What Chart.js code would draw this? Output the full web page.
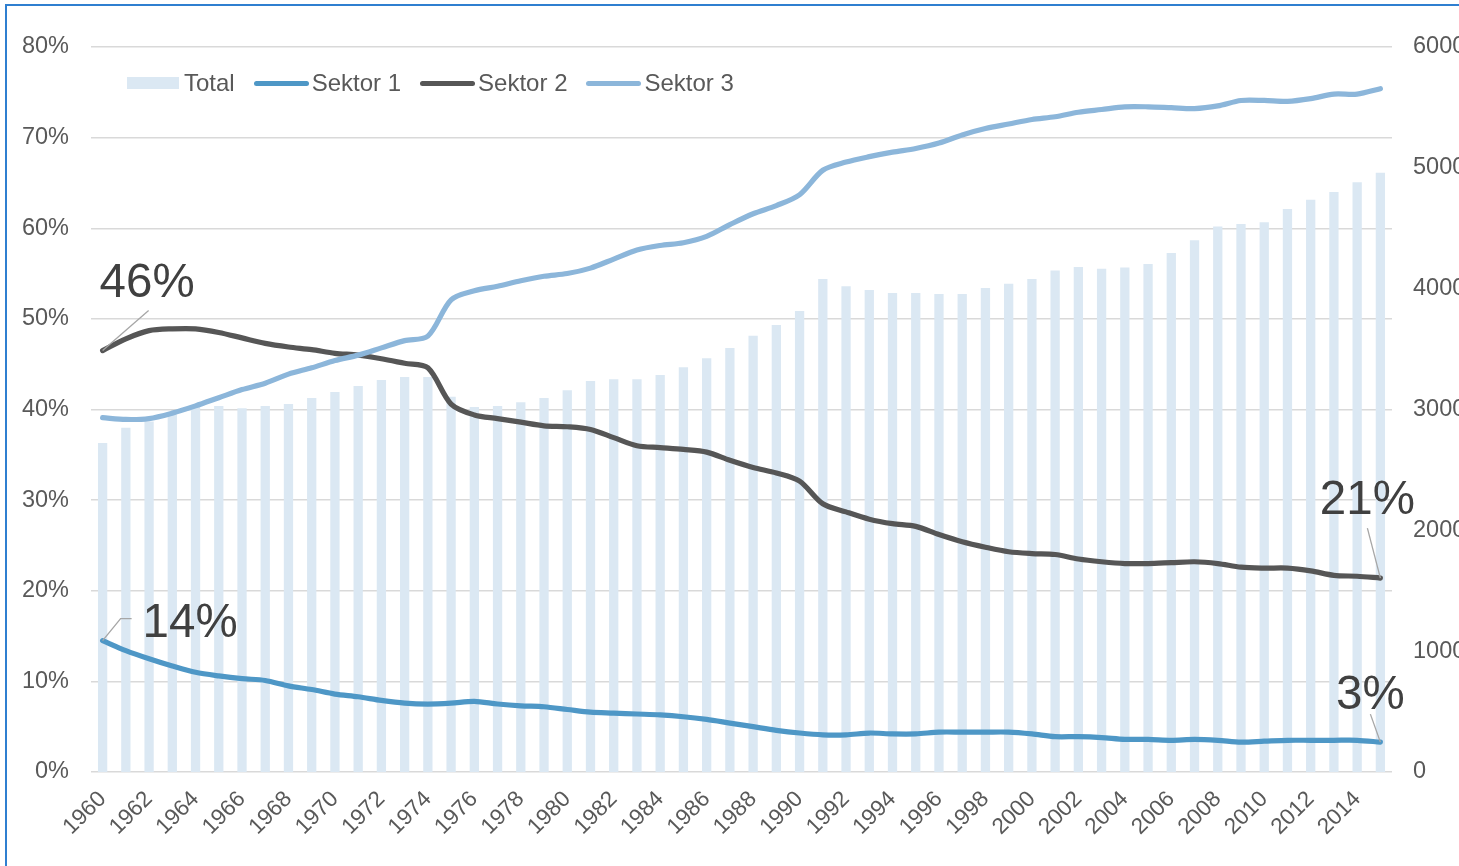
<!DOCTYPE html>
<html>
<head>
<meta charset="utf-8">
<script src="https://cdn.jsdelivr.net/npm/chart.js@4/dist/chart.umd.min.js"></script>
<style>
  html, body { margin: 0; padding: 0; background: #fff; overflow: hidden; width: 1459px; height: 866px; }
  #wrap { position: relative; width: 1459px; height: 866px; overflow: hidden; }
  #chart { position: absolute; left: 0; top: 0; }
  #frame { position: absolute; left: 5px; top: 4px; width: 1520px; height: 920px; border: 2px solid #2f7fd0; pointer-events: none; }
  #legend { position: absolute; left: 127px; top: 68px; display: flex; align-items: center; height: 30px;
            font-family: Arial, "Liberation Sans", sans-serif; font-size: 24px; color: #595959; }
  .item { display: flex; align-items: center; margin-right: 19px; }
  .swatch { margin-right: 5px; }
</style>
</head>
<body>
<div id="wrap">
  <canvas id="chart" width="1490" height="866"></canvas>
  <div id="legend"></div>
  <div id="frame"></div>
</div>
<script>
const years = [];
for (let y = 1960; y <= 2015; y++) years.push(String(y));

// Total (right axis)
const total = [
  2723, 2850, 2900, 2960, 3020, 3030, 3010, 3030, 3045, 3095,
  3145, 3195, 3245, 3270, 3270, 3105, 3020, 3030, 3060, 3095,
  3160, 3235, 3250, 3250, 3285, 3350, 3425, 3510, 3610, 3700,
  3815, 4080, 4020, 3990, 3965, 3965, 3955, 3955, 4005, 4040,
  4080, 4150, 4180, 4165, 4175, 4205, 4295, 4400, 4515, 4535,
  4550, 4660, 4735, 4800, 4880, 4960
];

// Sektor shares in %
const sektor1 = [
  14.5, 13.4, 12.5, 11.7, 11.0, 10.6, 10.3, 10.1, 9.5, 9.1,
  8.6, 8.3, 7.9, 7.6, 7.5, 7.6, 7.8, 7.5, 7.3, 7.2,
  6.9, 6.6, 6.5, 6.4, 6.3, 6.1, 5.8, 5.4, 5.0, 4.6,
  4.3, 4.1, 4.1, 4.3, 4.2, 4.2, 4.4, 4.4, 4.4, 4.4,
  4.2, 3.9, 3.9, 3.8, 3.6, 3.6, 3.5, 3.6, 3.5, 3.3,
  3.4, 3.5, 3.5, 3.5, 3.5, 3.3
];
const sektor2 = [
  46.5, 47.8, 48.7, 48.9, 48.9, 48.5, 47.9, 47.3, 46.9, 46.6,
  46.2, 46.0, 45.6, 45.1, 44.6, 40.6, 39.4, 39.0, 38.6, 38.2,
  38.1, 37.8, 36.9, 36.0, 35.8, 35.6, 35.3, 34.4, 33.6, 33.0,
  32.1, 29.6, 28.7, 27.9, 27.4, 27.1, 26.2, 25.4, 24.8, 24.3,
  24.1, 24.0, 23.5, 23.2, 23.0, 23.0, 23.1, 23.2, 23.0, 22.6,
  22.5, 22.5, 22.2, 21.7, 21.6, 21.4
];
const sektor3 = [
  39.1, 38.9, 39.0, 39.6, 40.4, 41.3, 42.2, 42.9, 43.9, 44.6,
  45.4, 46.0, 46.8, 47.6, 48.1, 52.1, 53.1, 53.6, 54.2, 54.7,
  55.0, 55.6, 56.6, 57.6, 58.1, 58.4, 59.1, 60.4, 61.6, 62.5,
  63.7, 66.4, 67.3, 67.9, 68.4, 68.8, 69.4, 70.3, 71.0, 71.5,
  72.0, 72.3, 72.8, 73.1, 73.4, 73.4, 73.3, 73.2, 73.5, 74.1,
  74.1, 74.0, 74.3, 74.8, 74.8, 75.4
];

const leftTicks = [0, 10, 20, 30, 40, 50, 60, 70, 80];
const rightTicks = [0, 1000, 2000, 3000, 4000, 5000, 6000];

const colTotal = '#dbe8f3';
const col1 = '#4e97c6';
const col2 = '#565656';
const col3 = '#8cb6da';
const textCol = '#595959';
const fontFam = 'Arial, "Liberation Sans", sans-serif';

// callouts: dataset index, point index, text, text offset, leader path (offsets from point)
const callouts = [
  { ds: 2, i: 0, text: '46%', tx: -3, ty: -54, align: 'left', path: [[0, 0], [46, -40]] },
  { ds: 1, i: 0, text: '14%', tx: 40, ty: -4, align: 'left', path: [[0, 0], [18, -22], [29, -22]] },
  { ds: 2, i: 55, text: '21%', tx: -13, ty: -64, align: 'center', path: [[0, 0], [-13, -50]] },
  { ds: 1, i: 55, text: '3%', tx: -10, ty: -33, align: 'center', path: [[0, 0], [-10, -28]] }
];

const calloutPlugin = {
  id: 'callouts',
  afterDatasetsDraw(chart) {
    const c = chart.ctx;
    callouts.forEach(a => {
      const pt = chart.getDatasetMeta(a.ds).data[a.i];
      c.save();
      c.strokeStyle = '#a6a6a6';
      c.lineWidth = 1.3;
      c.beginPath();
      a.path.forEach((p, k) => {
        if (k === 0) c.moveTo(pt.x + p[0], pt.y + p[1]);
        else c.lineTo(pt.x + p[0], pt.y + p[1]);
      });
      c.stroke();
      c.fillStyle = '#404040';
      c.font = '47.5px ' + fontFam;
      c.textAlign = a.align;
      c.textBaseline = 'alphabetic';
      c.fillText(a.text, pt.x + a.tx, pt.y + a.ty);
      c.restore();
    });
  }
};

const PLOT_LEFT = 91, PLOT_RIGHT = 1392, PLOT_TOP = 47, PLOT_BOTTOM = 772;
const canvas = document.getElementById('chart');

const lineStyle = { type: 'line', yAxisID: 'y', borderWidth: 5.2, pointRadius: 0, tension: 0.3,
  borderCapStyle: 'round', borderJoinStyle: 'round' };

const chart = new Chart(canvas.getContext('2d'), {
  type: 'bar',
  data: {
    labels: years,
    datasets: [
      { type: 'bar', label: 'Total', data: total, yAxisID: 'y1', backgroundColor: colTotal,
        barPercentage: 0.4, categoryPercentage: 1, order: 4 },
      Object.assign({ label: 'Sektor 1', data: sektor1, borderColor: col1, backgroundColor: col1, order: 3 }, lineStyle),
      Object.assign({ label: 'Sektor 2', data: sektor2, borderColor: col2, backgroundColor: col2, order: 2 }, lineStyle),
      Object.assign({ label: 'Sektor 3', data: sektor3, borderColor: col3, backgroundColor: col3, order: 1 }, lineStyle)
    ]
  },
  options: {
    responsive: false,
    animation: false,
    devicePixelRatio: 1,
    layout: { padding: { top: PLOT_TOP, left: 0, right: 0, bottom: 0 } },
    plugins: {
      legend: { display: false },
      tooltip: { enabled: false }
    },
    scales: {
      x: {
        grid: { display: false },
        border: { display: false },
        ticks: {
          autoSkip: false, maxRotation: 45, minRotation: 45, padding: 6,
          color: textCol, font: { family: fontFam, size: 22.5 },
          callback: (v, i) => (i % 2 === 0 ? years[i] : '')
        },
        afterFit: s => { s.height = 866 - PLOT_BOTTOM; }
      },
      y: {
        position: 'left', min: 0, max: 80,
        afterBuildTicks: s => { s.ticks = leftTicks.map(v => ({ value: v })); },
        grid: { color: '#d9d9d9', lineWidth: 1.5, drawTicks: false },
        border: { display: false },
        ticks: { padding: 22, color: textCol, font: { family: fontFam, size: 23.5 }, callback: v => v + '%' },
        afterFit: s => { s.width = PLOT_LEFT; }
      },
      y1: {
        position: 'right', min: 0, max: 6000,
        afterBuildTicks: s => { s.ticks = rightTicks.map(v => ({ value: v })); },
        grid: { display: false, drawTicks: false },
        border: { display: false },
        ticks: { padding: 21, color: textCol, font: { family: fontFam, size: 23.5 }, callback: v => String(v) },
        afterFit: s => { s.width = canvas.width - PLOT_RIGHT; }
      }
    }
  },
  plugins: [calloutPlugin]
});

// HTML legend built from the datasets
const legend = document.getElementById('legend');
chart.data.datasets.forEach(ds => {
  const item = document.createElement('div');
  item.className = 'item';
  const sw = document.createElement('span');
  sw.className = 'swatch';
  sw.style.display = 'inline-block';
  if (ds.type === 'bar') {
    sw.style.width = '52px'; sw.style.height = '12px'; sw.style.background = ds.backgroundColor;
  } else {
    sw.style.width = '55px'; sw.style.height = '5px'; sw.style.borderRadius = '3px';
    sw.style.background = ds.borderColor; sw.style.marginRight = '3px';
  }
  const txt = document.createElement('span');
  txt.textContent = ds.label;
  item.appendChild(sw);
  item.appendChild(txt);
  legend.appendChild(item);
});
</script>
</body>
</html>
